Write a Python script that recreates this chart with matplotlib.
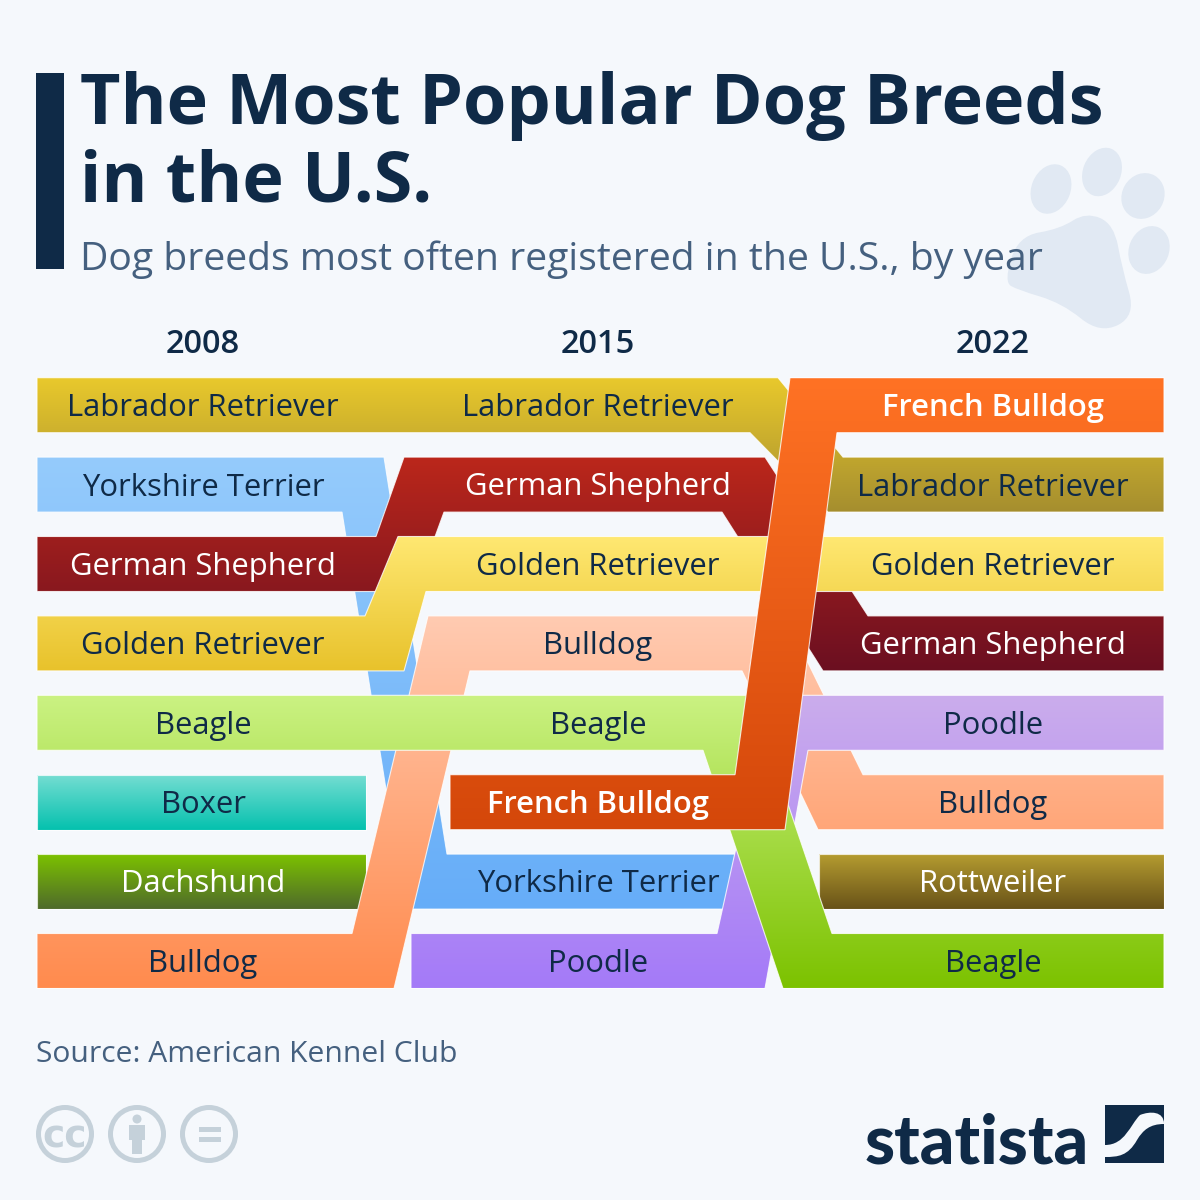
import numpy as np
import matplotlib
matplotlib.use('Agg')
import matplotlib.pyplot as plt
from matplotlib.colors import LinearSegmentedColormap
from matplotlib.patches import Rectangle, Circle, Ellipse, PathPatch, Polygon
from matplotlib.path import Path

# data: breeds from rank 1 to rank 8
years = [2008, 2015, 2022]
top_2008 = ['Labrador Retriever', 'Yorkshire Terrier', 'German Shepherd', 'Golden Retriever',
            'Beagle', 'Boxer', 'Dachshund', 'Bulldog']
top_2015 = ['Labrador Retriever', 'German Shepherd', 'Golden Retriever', 'Bulldog',
            'Beagle', 'French Bulldog', 'Yorkshire Terrier', 'Poodle']
top_2022 = ['French Bulldog', 'Labrador Retriever', 'Golden Retriever', 'German Shepherd',
            'Poodle', 'Bulldog', 'Rottweiler', 'Beagle']
tables = [top_2008, top_2015, top_2022]

# colours: top and bottom of each ribbon
colors = {
    'Labrador Retriever': ('#e9c92c', '#a58e2f'),
    'Yorkshire Terrier': ('#95cbfc', '#66adf8'),
    'German Shepherd': ('#bb271b', '#6b0f21'),
    'Golden Retriever': ('#ffe872', '#e8c22b'),
    'Beagle': ('#cbf283', '#7cc200'),
    'Boxer': ('#74ddd2', '#05c1ae'),
    'Dachshund': ('#7cc200', '#4f6a2b'),
    'Bulldog': ('#ffcbb2', '#ff8b4e'),
    'French Bulldog': ('#ff7224', '#d4470a'),
    'Poodle': ('#cbadec', '#a47af8'),
    'Rottweiler': ('#b59c30', '#685218'),
}
white_labels = ['German Shepherd', 'Dachshund', 'Rottweiler', 'French Bulldog']

# drawing order, first one at the bottom
order = ['Yorkshire Terrier', 'Labrador Retriever', 'German Shepherd', 'Golden Retriever', 'Boxer',
         'Dachshund', 'Bulldog', 'Rottweiler', 'Poodle', 'Beagle', 'French Bulldog']

# layout, pixels
navy = '#0f2a47'
slate = '#45607f'
bg = '#f5f8fc'
row_start = 377.7
row_step = 79.4
row_h = 55
col_center = [203, 598, 993]
ends = {
    'Labrador Retriever': (37, 1164), 'Yorkshire Terrier': (37, 745), 'German Shepherd': (37, 1164),
    'Golden Retriever': (37, 1164), 'Beagle': (37, 1164), 'Boxer': (37, 366), 'Dachshund': (37, 366),
    'Bulldog': (37, 1164), 'French Bulldog': (450, 1164), 'Poodle': (411, 1164), 'Rottweiler': (819, 1164),
}
# where a ribbon leaves one row and joins the next: top from, top to, bottom from, bottom to
bends = {
    ('Labrador Retriever', 1): (778, 843, 750, 828),
    ('Yorkshire Terrier', 0): (384, 447, 342, 405),
    ('German Shepherd', 0): (376, 404, 415, 444),
    ('German Shepherd', 1): (765, 868, 722, 823),
    ('Golden Retriever', 0): (365, 398, 404, 426),
    ('Beagle', 1): (751, 832, 703, 783),
    ('Bulldog', 0): (352, 428, 394, 470),
    ('Bulldog', 1): (785, 863, 742, 818),
    ('French Bulldog', 1): (735, 790, 785, 837),
    ('Poodle', 1): (717, 770, 765, 808),
}


def row_top(rank):
    return row_start + (rank - 1) * row_step


def draw_ribbon(ax, breed, z):
    ranks = [(t.index(breed) + 1 if breed in t else None) for t in tables]
    cols = [i for i, r in enumerate(ranks) if r is not None]
    left, right = ends[breed]
    top_pts = [(left, row_top(ranks[cols[0]]))]
    bot_pts = [(left, row_top(ranks[cols[0]]) + row_h)]
    for c in cols[:-1]:
        if (breed, c) in bends:
            t0, t1, b0, b1 = bends[(breed, c)]
            y0 = row_top(ranks[c])
            y1 = row_top(ranks[c + 1])
            top_pts += [(t0, y0), (t1, y1)]
            bot_pts += [(b0, y0 + row_h), (b1, y1 + row_h)]
    top_pts.append((right, row_top(ranks[cols[-1]])))
    bot_pts.append((right, row_top(ranks[cols[-1]]) + row_h))
    pts = top_pts + bot_pts[::-1]

    ys = [p[1] for p in pts]
    cmap = LinearSegmentedColormap.from_list(breed, colors[breed])
    im = ax.imshow(np.linspace(0, 1, 256)[:, None], cmap=cmap, aspect='auto', origin='upper',
                   extent=(left, right, max(ys), min(ys)), zorder=z, interpolation='bilinear')
    edge = Polygon(pts, closed=True, facecolor='none', edgecolor='white', linewidth=0.8, alpha=0.8, zorder=z + 0.1)
    ax.add_patch(edge)
    im.set_clip_path(edge)


def smooth_blob(points):
    # closed curve through the midpoints, points are the control points
    pts = np.array(points, dtype=float)
    mids = (pts + np.roll(pts, -1, axis=0)) / 2
    verts = [mids[-1]]
    codes = [Path.MOVETO]
    for p, m in zip(pts, mids):
        verts += [p, m]
        codes += [Path.CURVE3, Path.CURVE3]
    return Path(verts, codes)


fig = plt.figure(figsize=(12, 12), dpi=100, facecolor=bg)
ax = fig.add_axes([0, 0, 1, 1])
ax.set_facecolor(bg)

# paw in the background
paw = '#e1e9f3'
for cx, cy, w, h, ang in [(1051, 189, 39, 51, 22), (1102, 172, 38, 50, 22),
                          (1143, 196, 42, 47, 30), (1149, 250, 40, 49, 22)]:
    ax.add_patch(Ellipse((cx, cy), w, h, angle=ang, color=paw, lw=0, zorder=1))
ax.add_patch(PathPatch(smooth_blob([(1004, 282), (1018, 236), (1060, 229), (1086, 212), (1114, 224), (1122, 268),
                                    (1136, 316), (1100, 334), (1062, 303), (1018, 290)]),
                       facecolor=paw, lw=0, zorder=1))

# title block
ax.add_patch(Rectangle((36, 73), 28, 196, color=navy, lw=0, zorder=2))
ax.text(80, 124, 'The Most Popular Dog Breeds', fontsize=50.5, fontweight='bold', family='Open Sans', color=navy, va='baseline', zorder=3)
ax.text(80, 202, 'in the U.S.', fontsize=50.5, fontweight='bold', family='Open Sans', color=navy, va='baseline', zorder=3)
ax.text(80, 270, 'Dog breeds most often registered in the U.S., by year', fontsize=28.15, family='Open Sans', color=slate, va='baseline', zorder=3)

for y, cx in zip(years, col_center):
    ax.text(cx, 353, str(y), fontsize=23.5, fontweight='semibold', family='Open Sans', color=navy, ha='center', va='baseline', zorder=3)

# ribbons
for i, breed in enumerate(order):
    draw_ribbon(ax, breed, 5 + i)

# row labels
for cx, table in zip(col_center, tables):
    for rank, breed in enumerate(table, start=1):
        white = breed in white_labels
        ax.text(cx, row_top(rank) + 38.4, breed, fontsize=22.3, family='Open Sans',
                fontweight='semibold' if breed == 'French Bulldog' else 'normal',
                color='white' if white else navy, ha='center', va='baseline', zorder=30)

# footer
ax.text(36, 1062, 'Source: American Kennel Club', fontsize=21.6, family='Open Sans', color=slate, va='baseline', zorder=3)

icon = '#c5d1da'
for cx in [65, 137, 209]:
    ax.add_patch(Circle((cx, 1134), 26.5, facecolor='none', edgecolor=icon, linewidth=3.6, zorder=3))
ax.text(65, 1134, 'cc', fontsize=27, fontweight='bold', family='DejaVu Sans', color=icon, ha='center', va='center_baseline', zorder=3)
ax.add_patch(Circle((137, 1119), 4.5, color=icon, lw=0, zorder=3))
ax.add_patch(Rectangle((129, 1125), 16, 15, color=icon, lw=0, zorder=3))
ax.add_patch(Rectangle((132, 1140), 10, 14, color=icon, lw=0, zorder=3))
ax.add_patch(Rectangle((199, 1127), 22, 5, color=icon, lw=0, zorder=3))
ax.add_patch(Rectangle((199, 1137), 22, 5, color=icon, lw=0, zorder=3))

ax.text(865, 1163, 'statista', fontsize=49, fontweight='black', family='Lato', color=navy, va='baseline', zorder=3)
ax.add_patch(Rectangle((1105, 1105), 59, 58, color=navy, lw=0, zorder=3))
swoosh = Path([(1105, 1145), (1125, 1145), (1130, 1125), (1140, 1115), (1150, 1111), (1164, 1111),
               (1164, 1124), (1150, 1124), (1143, 1130), (1137, 1140), (1128, 1156), (1118, 1157),
               (1105, 1157), (1105, 1145)],
              [Path.MOVETO, Path.CURVE4, Path.CURVE4, Path.CURVE4, Path.CURVE4, Path.CURVE4, Path.LINETO,
               Path.CURVE4, Path.CURVE4, Path.CURVE4, Path.CURVE4, Path.CURVE4, Path.LINETO, Path.CLOSEPOLY])
ax.add_patch(PathPatch(swoosh, facecolor=bg, lw=0, zorder=4))

ax.set_xlim(0, 1200)
ax.set_ylim(1200, 0)
ax.axis('off')
fig.savefig('out.png', dpi=100, facecolor=bg)
